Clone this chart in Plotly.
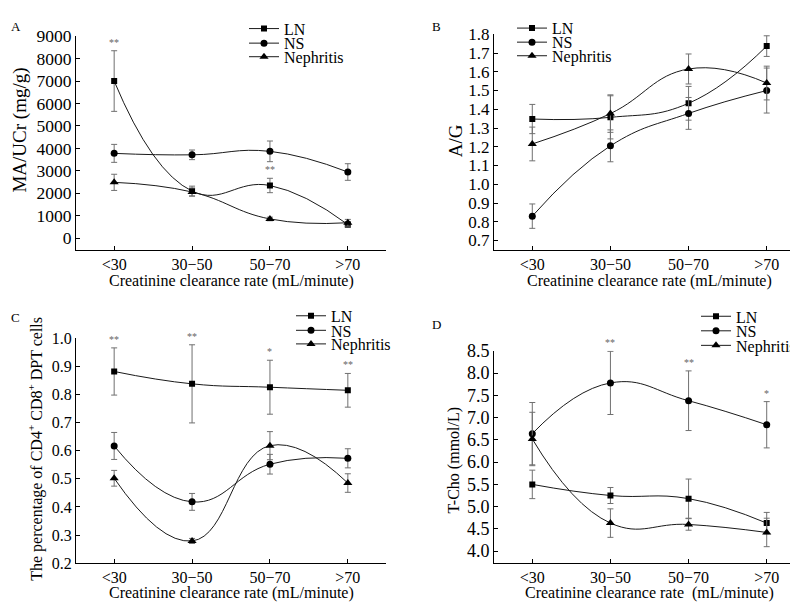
import plotly.graph_objects as go

W, H = 798, 605
FONT = "Liberation Serif, Times New Roman, serif"

categories = ["<30", "30\u221250", "50\u221270", ">70"]
groups = ["LN", "NS", "Nephritis"]
symbols = {"LN": "square", "NS": "circle", "Nephritis": "triangle-up"}
msizes = {"LN": 6, "NS": 7, "Nephritis": 8}

# panel A  MA/UCr
a_ln = [7000, 2100, 2350, 610]
a_ln_err = [1350, 220, 320, 120]
a_ns = [3780, 3715, 3870, 2950]
a_ns_err = [400, 215, 460, 370]
a_ne = [2490, 2060, 860, 690]
a_ne_err = [360, 180, 80, 150]
a_sig = ["**", "", "**", ""]

# panel B  A/G
b_ln = [1.348, 1.357, 1.432, 1.737]
b_ln_err = [0.078, 0.115, 0.09, 0.055]
b_ns = [0.830, 1.205, 1.378, 1.500]
b_ns_err = [0.065, 0.085, 0.085, 0.12]
b_ne = [1.215, 1.377, 1.615, 1.540]
b_ne_err = [0.09, 0.10, 0.08, 0.09]

# panel C  CD4+ CD8+ DPT cells
c_ln = [0.882, 0.838, 0.826, 0.815]
c_ln_err = [0.084, 0.139, 0.096, 0.060]
c_ns = [0.617, 0.418, 0.552, 0.573]
c_ns_err = [0.048, 0.030, 0.035, 0.034]
c_ne = [0.502, 0.279, 0.618, 0.485]
c_ne_err = [0.028, 0.009, 0.050, 0.033]
c_sig = ["**", "**", "*", "**"]

# panel D  T-Cho
d_ln = [5.50, 5.25, 5.18, 4.63]
d_ln_err = [0.32, 0.18, 0.44, 0.24]
d_ns = [6.64, 7.78, 7.38, 6.84]
d_ns_err = [0.70, 0.71, 0.67, 0.52]
d_ne = [6.52, 4.63, 4.60, 4.42]
d_ne_err = [0.60, 0.32, 0.13, 0.32]
d_sig = ["", "**", "**", "*"]

panels = [
    dict(key="A", ax="", data=[a_ln, a_ns, a_ne], err=[a_ln_err, a_ns_err, a_ne_err], sig=a_sig, sig_on=0),
    dict(key="B", ax="2", data=[b_ln, b_ns, b_ne], err=[b_ln_err, b_ns_err, b_ne_err], sig=None),
    dict(key="C", ax="3", data=[c_ln, c_ns, c_ne], err=[c_ln_err, c_ns_err, c_ne_err], sig=c_sig, sig_on=0),
    dict(key="D", ax="4", data=[d_ln, d_ns, d_ne], err=[d_ln_err, d_ns_err, d_ne_err], sig=d_sig, sig_on=1),
]

# legend: text start x and row centres (pixels)
leg_pos = {
    "A": (282, [26, 41, 55]),
    "B": (550, [25.5, 40, 54]),
    "C": (329, [316, 331, 345]),
    "D": (734, [316.5, 331.5, 346.5]),
}
leg_dy = {"A": -15, "B": -15, "C": -9, "D": -9}

fig = go.Figure()
n = 0
for p in panels:
    for g, ys, es in zip(groups, p["data"], p["err"]):
        n += 1
        lname = "legend" if n == 1 else "legend%d" % n
        fig.add_trace(go.Scatter(
            x=categories, y=ys, name=g,
            mode="lines+markers",
            line=dict(color="#1a1a1a", width=1, shape="spline", smoothing=1.3),
            marker=dict(symbol=symbols[g], size=msizes[g], color="black"),
            error_y=dict(type="data", array=es, color="#707070", thickness=1, width=3),
            xaxis="x" + p["ax"], yaxis="y" + p["ax"],
            legend=lname,
        ))
        tx, rows = leg_pos[p["key"]]
        ry = rows[groups.index(g)] + leg_dy[p["key"]]
        fig.update_layout({lname: dict(
            x=(tx - 46) / W, y=1 - ry / H, xanchor="left", yanchor="middle",
            bgcolor="rgba(0,0,0,0)", borderwidth=0, itemwidth=30,
            font=dict(family=FONT, size=16, color="black"),
        )})

# significance marks
for p in panels:
    if not p["sig"]:
        continue
    ys = p["data"][p["sig_on"]]
    es = p["err"][p["sig_on"]]
    for c, y, e, s in zip(categories, ys, es, p["sig"]):
        if s:
            fig.add_annotation(x=c, y=y + e, text=s, showarrow=False, xref="x" + p["ax"],
                               yref="y" + p["ax"], yanchor="bottom", yshift=1,
                               font=dict(family=FONT, size=10, color="#666666"))

def paper_text(text, px, py, size, angle=0):
    fig.add_annotation(x=px / W, y=1 - py / H, xref="paper", yref="paper", text=text,
                       showarrow=False, xanchor="center", yanchor="middle", textangle=angle,
                       font=dict(family=FONT, size=size, color="black"))

# panel letters
for letter, px, py in [("A", 7.5, 9), ("B", 428, 9), ("C", 7.5, 309), ("D", 428, 316)]:
    paper_text(letter, px, py, 13)

# axis titles
xt = "Creatinine clearance rate (mL/minute)"
paper_text(xt, 223, 271, 16)
paper_text(xt, 641, 271, 16)
paper_text(xt, 223, 593, 16)
paper_text("Creatinine clearance rate\u00a0 (mL/minute)", 641, 593, 16)
paper_text("MA/UCr (mg/g)", 12, 116, 19, -90)
paper_text("A/G", 447, 127, 19, -90)
paper_text("The percentage of CD4<sup>+</sup> CD8<sup>+</sup> DPT cells", 28, 444, 16, -90)
paper_text("T-Cho (mmol/L)", 446, 456, 16, -90)

def xaxis_style(domain, anchor):
    return dict(showline=True, linecolor="black", linewidth=1, ticks="inside", ticklen=4,
                tickcolor="black", showgrid=False, zeroline=False, domain=domain,
                range=[-0.49, 3.49], anchor=anchor, tickangle=0,
                tickfont=dict(family=FONT, size=16, color="black"))

def yaxis_style(domain, rng, dtick, fsize, anchor, fmt=None):
    d = dict(showline=True, linecolor="black", linewidth=1, ticks="inside", ticklen=4,
             tickcolor="black", showgrid=False, zeroline=False, domain=domain,
             range=rng, dtick=dtick, tick0=0, anchor=anchor,
             tickfont=dict(family=FONT, size=fsize, color="black"))
    if fmt:
        d["tickformat"] = fmt
    return d

xl = [68 / W, 378 / W]
xr = [486 / W, 797 / W]

fig.update_layout(
    width=W, height=H, margin=dict(l=0, r=0, t=0, b=0),
    plot_bgcolor="white", paper_bgcolor="white",
    showlegend=True,
    xaxis=xaxis_style(xl, "y"),
    yaxis=yaxis_style([1 - 239 / H, 1 - 18.7 / H], [-518, 9000], 1000, 17.5, "x"),
    xaxis2=xaxis_style(xr, "y2"),
    yaxis2=yaxis_style([1 - 239 / H, 1 - 16.7 / H], [0.65, 1.8005], 0.1, 17, "x2", ".1f"),
    xaxis3=xaxis_style(xl, "y3"),
    yaxis3=yaxis_style([1 - 562 / H, 1 - 330 / H], [0.1995, 1.0005], 0.1, 16, "x3", ".1f"),
    xaxis4=xaxis_style(xr, "y4"),
    yaxis4=yaxis_style([1 - 562 / H, 1 - 343 / H], [3.727, 8.502], 0.5, 18, "x4", ".1f"),
)

fig.write_html("out.html")
